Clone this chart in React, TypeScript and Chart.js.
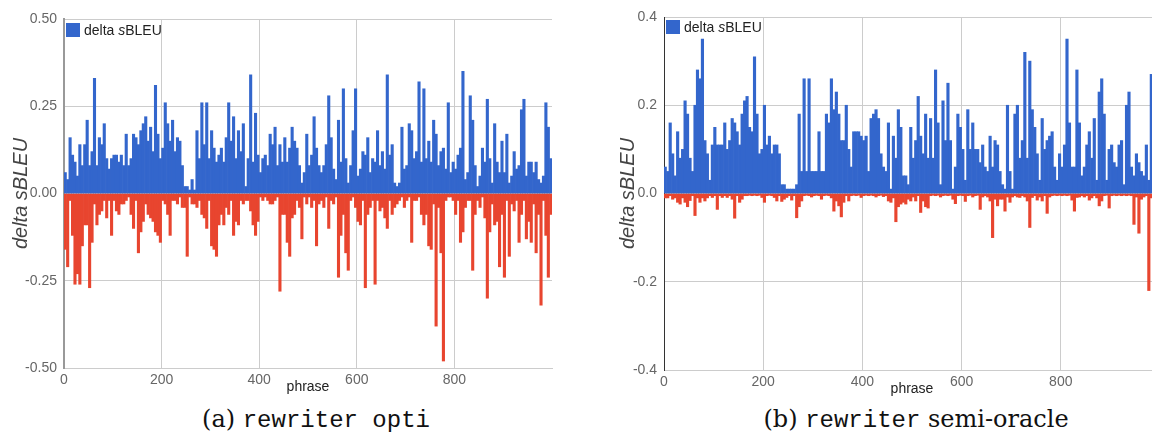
import React, { useEffect, useRef } from "react";
import { Chart, registerables } from "chart.js";

Chart.register(...registerables);

// each value covers a bin of 5 phrases (bin i = phrases 5i .. 5i+4)
const BIN_SIZE = 5;
const X_TICKS = [0, 200, 400, 600, 800, 1000];
const LEFT_Y_TICKS = [-0.5, -0.25, 0, 0.25, 0.5];
const RIGHT_Y_TICKS = [-0.4, -0.2, 0, 0.2, 0.4];

// (a) rewriter opti
const optiGain = [
  0.06, 0.04, 0.16, 0.11, 0.09, 0.05, 0.14, 0.08, 0.14, 0.21,
  0.08, 0.12, 0.33, 0.08, 0.16, 0.14, 0.20, 0.10, 0.07, 0.10,
  0.11, 0.11, 0.09, 0.11, 0.08, 0.17, 0.08, 0.10, 0.17, 0.16,
  0.14, 0.18, 0.20, 0.22, 0.15, 0.19, 0.12, 0.31, 0.17, 0.10,
  0.13, 0.26, 0.20, 0.15, 0.21, 0.12, 0.16, 0.15, 0.08, 0.02,
  0.02, 0.01, 0.04, 0.01, 0.18, 0.10, 0.26, 0.14, 0.26, 0.10,
  0.18, 0.13, 0.09, 0.11, 0.13, 0.09, 0.16, 0.26, 0.15, 0.22,
  0.10, 0.18, 0.12, 0.20, 0.02, 0.10, 0.34, 0.09, 0.23, 0.11,
  0.06, 0.10, 0.11, 0.08, 0.17, 0.14, 0.19, 0.08, 0.14, 0.09,
  0.16, 0.09, 0.13, 0.19, 0.15, 0.13, 0.08, 0.03, 0.06, 0.17,
  0.08, 0.11, 0.22, 0.13, 0.08, 0.06, 0.08, 0.14, 0.28, 0.16,
  0.07, 0.04, 0.21, 0.09, 0.30, 0.10, 0.03, 0.08, 0.18, 0.30,
  0.05, 0.07, 0.12, 0.11, 0.16, 0.06, 0.10, 0.09, 0.18, 0.08,
  0.12, 0.07, 0.34, 0.11, 0.14, 0.03, 0.02, 0.03, 0.19, 0.07,
  0.08, 0.20, 0.18, 0.10, 0.12, 0.32, 0.09, 0.30, 0.10, 0.15,
  0.09, 0.21, 0.17, 0.08, 0.12, 0.13, 0.07, 0.26, 0.06, 0.09,
  0.07, 0.11, 0.13, 0.35, 0.04, 0.06, 0.28, 0.21, 0.08, 0.02,
  0.05, 0.13, 0.09, 0.27, 0.10, 0.03, 0.20, 0.09, 0.06, 0.15,
  0.06, 0.17, 0.03, 0.05, 0.12, 0.07, 0.08, 0.24, 0.27, 0.05,
  0.09, 0.09, 0.06, 0.09, 0.04, 0.03, 0.05, 0.26, 0.19, 0.10,
];
const optiLoss = [
  -0.16, -0.21, -0.02, -0.12, -0.26, -0.23, -0.26, -0.15, -0.09, -0.09,
  -0.27, -0.14, -0.03, -0.09, -0.06, -0.05, -0.02, -0.07, -0.02, -0.12,
  -0.02, -0.05, -0.06, -0.03, -0.03, -0.02, -0.01, -0.06, -0.10, -0.02,
  -0.17, -0.11, -0.08, -0.03, -0.06, -0.07, -0.08, -0.11, -0.12, -0.14,
  -0.02, -0.03, -0.06, -0.12, -0.02, -0.02, -0.03, -0.01, -0.04, -0.04,
  -0.18, -0.01, -0.03, -0.03, -0.04, -0.02, -0.06, -0.07, -0.10, -0.02,
  -0.15, -0.16, -0.18, -0.09, -0.06, -0.09, -0.04, -0.06, -0.02, -0.12,
  -0.08, -0.09, -0.02, -0.03, -0.02, -0.02, -0.05, -0.09, -0.12, -0.08,
  -0.01, -0.02, -0.01, -0.02, -0.03, -0.03, -0.02, -0.01, -0.28, -0.06,
  -0.06, -0.14, -0.18, -0.07, -0.06, -0.02, -0.04, -0.13, -0.01, -0.03,
  -0.01, -0.04, -0.02, -0.15, -0.03, -0.02, -0.04, -0.01, -0.10, -0.02,
  -0.03, -0.01, -0.24, -0.12, -0.06, -0.17, -0.22, -0.02, -0.01, -0.04,
  -0.08, -0.09, -0.02, -0.27, -0.06, -0.04, -0.02, -0.26, -0.02, -0.05,
  -0.04, -0.07, -0.10, -0.02, -0.06, -0.04, -0.03, -0.02, -0.01, -0.04,
  -0.02, -0.01, -0.14, -0.02, -0.02, -0.01, -0.06, -0.09, -0.06, -0.15,
  -0.16, -0.03, -0.38, -0.04, -0.17, -0.48, -0.02, -0.01, -0.01, -0.02,
  -0.06, -0.02, -0.14, -0.11, -0.04, -0.02, -0.02, -0.22, -0.06, -0.02,
  -0.04, -0.01, -0.07, -0.30, -0.11, -0.03, -0.09, -0.08, -0.21, -0.06,
  -0.24, -0.02, -0.18, -0.03, -0.05, -0.02, -0.14, -0.06, -0.02, -0.13,
  -0.08, -0.14, -0.03, -0.17, -0.06, -0.32, -0.02, -0.12, -0.24, -0.06,
];

// (b) rewriter semi-oracle
const semiGain = [
  0.06, 0.05, 0.16, 0.09, 0.04, 0.14, 0.08, 0.10, 0.21, 0.18,
  0.08, 0.05, 0.20, 0.28, 0.26, 0.35, 0.12, 0.09, 0.03, 0.11,
  0.15, 0.11, 0.11, 0.11, 0.16, 0.10, 0.12, 0.17, 0.16, 0.14,
  0.11, 0.18, 0.21, 0.22, 0.15, 0.14, 0.31, 0.18, 0.09, 0.10,
  0.20, 0.11, 0.13, 0.09, 0.11, 0.11, 0.09, 0.02, 0.02, 0.01,
  0.01, 0.01, 0.01, 0.02, 0.18, 0.05, 0.26, 0.05, 0.26, 0.05,
  0.05, 0.05, 0.14, 0.05, 0.05, 0.18, 0.16, 0.26, 0.19, 0.23,
  0.18, 0.12, 0.12, 0.20, 0.10, 0.06, 0.14, 0.14, 0.14, 0.13,
  0.12, 0.13, 0.05, 0.17, 0.18, 0.19, 0.17, 0.09, 0.06, 0.05,
  0.16, 0.01, 0.13, 0.08, 0.19, 0.15, 0.04, 0.04, 0.02, 0.15,
  0.08, 0.12, 0.22, 0.13, 0.09, 0.18, 0.08, 0.17, 0.08, 0.28,
  0.16, 0.02, 0.21, 0.12, 0.25, 0.12, 0.01, 0.06, 0.18, 0.15,
  0.10, 0.03, 0.19, 0.10, 0.16, 0.10, 0.10, 0.07, 0.11, 0.06,
  0.05, 0.13, 0.06, 0.12, 0.11, 0.05, 0.02, 0.01, 0.20, 0.05,
  0.01, 0.18, 0.20, 0.08, 0.12, 0.32, 0.08, 0.30, 0.19, 0.15,
  0.09, 0.03, 0.17, 0.10, 0.12, 0.13, 0.14, 0.06, 0.03, 0.09,
  0.06, 0.11, 0.35, 0.16, 0.06, 0.06, 0.28, 0.16, 0.04, 0.06,
  0.11, 0.14, 0.08, 0.17, 0.03, 0.23, 0.26, 0.18, 0.03, 0.10,
  0.11, 0.07, 0.06, 0.11, 0.12, 0.02, 0.20, 0.23, 0.06, 0.04,
  0.09, 0.07, 0.05, 0.04, 0.11, 0.03, 0.27, 0.12, 0.08, 0.05,
];
const semiLoss = [
  -0.010, -0.010, -0.005, -0.013, -0.010, -0.020, -0.024, -0.010, -0.020, -0.030,
  -0.016, -0.005, -0.050, -0.010, -0.020, -0.010, -0.017, -0.010, -0.005, -0.009,
  -0.005, -0.036, -0.005, -0.009, -0.005, -0.009, -0.005, -0.013, -0.056, -0.005,
  -0.020, -0.013, -0.005, -0.005, -0.004, -0.005, -0.004, -0.005, -0.004, -0.009,
  -0.020, -0.005, -0.004, -0.005, -0.009, -0.017, -0.005, -0.018, -0.013, -0.009,
  -0.005, -0.015, -0.005, -0.055, -0.030, -0.017, -0.005, -0.004, -0.005, -0.008,
  -0.005, -0.004, -0.005, -0.013, -0.005, -0.004, -0.005, -0.010, -0.040, -0.017,
  -0.028, -0.053, -0.020, -0.005, -0.017, -0.005, -0.004, -0.005, -0.004, -0.009,
  -0.005, -0.004, -0.005, -0.004, -0.005, -0.008, -0.005, -0.004, -0.007, -0.005,
  -0.017, -0.020, -0.010, -0.064, -0.030, -0.024, -0.020, -0.024, -0.013, -0.017,
  -0.008, -0.017, -0.005, -0.043, -0.017, -0.030, -0.033, -0.005, -0.004, -0.005,
  -0.004, -0.008, -0.005, -0.004, -0.005, -0.004, -0.013, -0.023, -0.005, -0.004,
  -0.005, -0.018, -0.005, -0.004, -0.008, -0.005, -0.004, -0.036, -0.008, -0.005,
  -0.008, -0.017, -0.100, -0.013, -0.028, -0.013, -0.013, -0.040, -0.008, -0.020,
  -0.008, -0.005, -0.008, -0.009, -0.005, -0.008, -0.017, -0.077, -0.009, -0.005,
  -0.015, -0.008, -0.017, -0.005, -0.045, -0.008, -0.005, -0.004, -0.005, -0.004,
  -0.005, -0.004, -0.005, -0.004, -0.015, -0.040, -0.009, -0.008, -0.005, -0.008,
  -0.005, -0.015, -0.010, -0.005, -0.010, -0.028, -0.017, -0.005, -0.004, -0.033,
  -0.005, -0.004, -0.005, -0.004, -0.005, -0.004, -0.005, -0.004, -0.005, -0.070,
  -0.008, -0.090, -0.013, -0.008, -0.005, -0.220, -0.010, -0.010, -0.008, -0.010,
];

const BLUE = "#3366cc";
const RED = "#e8452f";
const SANS = "'Liberation Sans', Arial, sans-serif";
const SERIF = "'DejaVu Serif', 'Liberation Serif', serif";
const MONO = "'Liberation Mono', 'Courier New', monospace";

type PanelProps = {
  gain: number[];
  loss: number[];
  yTicks: number[];
  decimals: number;
  left: number;
  width: number;
  height: number;
  padTop: number;
  padRight: number;
  yWidth: number;
  xHeight: number;
  yTitlePad: number;
  axisColor: string;
  axisWidth: number;
};

function Panel(p: PanelProps) {
  const ref = useRef<HTMLCanvasElement | null>(null);
  useEffect(() => {
    if (!ref.current) return;
    const toPoints = (arr: number[]) =>
      arr.map((v, i) => ({ x: i * BIN_SIZE + BIN_SIZE / 2, y: v }));
    const chart = new Chart(ref.current, {
      type: "bar",
      data: {
        datasets: [
          {
            label: "delta sBLEU",
            data: toPoints(p.gain) as any,
            backgroundColor: BLUE,
            borderWidth: 0,
            grouped: false,
            barPercentage: 1,
            categoryPercentage: 1,
          },
          {
            label: "delta sBLEU (negative)",
            data: toPoints(p.loss) as any,
            backgroundColor: RED,
            borderWidth: 0,
            grouped: false,
            barPercentage: 1,
            categoryPercentage: 1,
          },
        ],
      },
      options: {
        responsive: false,
        animation: false,
        devicePixelRatio: 1,
        layout: { padding: { top: p.padTop, right: p.padRight, left: 0, bottom: 0 } },
        plugins: { legend: { display: false }, tooltip: { enabled: false } },
        scales: {
          x: {
            type: "linear",
            min: 0,
            max: 1000,
            offset: false,
            afterBuildTicks: (s: any) => {
              s.ticks = X_TICKS.map((v) => ({ value: v }));
            },
            afterFit: (s: any) => {
              s.height = p.xHeight;
            },
            ticks: {
              autoSkip: false,
              maxRotation: 0,
              padding: 4,
              color: "#666",
              font: { family: SANS, size: 14 },
              callback: (v: any) => (Number(v) === 1000 ? "" : String(v)),
            },
            grid: {
              drawTicks: false,
              offset: false,
              color: (ctx: any) =>
                ctx.tick && ctx.tick.value === 1000 ? "rgba(0,0,0,0)" : "#cccccc",
            },
            border: { color: "#cccccc" },
            title: {
              display: true,
              text: "phrase",
              color: "#222",
              font: { family: SANS, size: 14 },
              padding: { top: 0, bottom: 4.6 },
            },
          },
          y: {
            min: p.yTicks[0],
            max: p.yTicks[p.yTicks.length - 1],
            afterBuildTicks: (s: any) => {
              s.ticks = p.yTicks.map((v) => ({ value: v }));
            },
            afterFit: (s: any) => {
              s.width = p.yWidth;
            },
            ticks: {
              padding: 7,
              color: "#666",
              font: { family: SANS, size: 14 },
              callback: (v: any) => Number(v).toFixed(p.decimals),
            },
            grid: { drawTicks: false, color: "#cccccc" },
            border: { color: p.axisColor, width: p.axisWidth },
            title: {
              display: true,
              text: "delta sBLEU",
              color: "#444",
              font: { family: SANS, size: 20, style: "italic" },
              padding: { top: p.yTitlePad, bottom: 0 },
            },
          },
        },
      },
    });
    return () => chart.destroy();
  }, []);
  return (
    <canvas
      ref={ref}
      width={p.width}
      height={p.height}
      style={{ position: "absolute", left: p.left, top: 0, width: p.width, height: p.height }}
    />
  );
}

function Legend({ x, y }: { x: number; y: number }) {
  return (
    <div style={{ position: "absolute", left: x, top: y, height: 16, display: "flex", alignItems: "center" }}>
      <div style={{ width: 14, height: 14, background: BLUE, marginRight: 4 }} />
      <span style={{ fontFamily: SANS, fontSize: 14, color: "#222", lineHeight: "16px", whiteSpace: "nowrap" }}>
        delta <span style={{ fontStyle: "italic" }}>s</span>BLEU
      </span>
    </div>
  );
}

export default function App() {
  return (
    <div
      style={{
        position: "absolute",
        left: 0,
        top: 0,
        width: 1152,
        height: 443,
        overflow: "hidden",
        background: "#fff",
      }}
    >
      <Panel
        gain={optiGain}
        loss={optiLoss}
        yTicks={LEFT_Y_TICKS}
        decimals={2}
        left={0}
        width={576}
        height={400}
        padTop={19}
        padRight={24}
        yWidth={64}
        xHeight={32}
        yTitlePad={9}
        axisColor="#999"
        axisWidth={2}
      />
      <Panel
        gain={semiGain}
        loss={semiLoss}
        yTicks={RIGHT_Y_TICKS}
        decimals={1}
        left={576}
        width={600}
        height={402}
        padTop={17}
        padRight={16}
        yWidth={88}
        xHeight={32}
        yTitlePad={40}
        axisColor="#333"
        axisWidth={1}
      />
      <Legend x={66} y={22} />
      <Legend x={666} y={19} />
      <div
        style={{
          position: "absolute",
          left: 316,
          top: 404,
          transform: "translateX(-50%)",
          whiteSpace: "nowrap",
          fontSize: 24,
          lineHeight: "30px",
          color: "#111",
        }}
      >
        <span style={{ fontFamily: SERIF }}>(a) </span>
        <span style={{ fontFamily: MONO }}>rewriter opti</span>
      </div>
      <div
        style={{
          position: "absolute",
          left: 916,
          top: 404,
          transform: "translateX(-50%)",
          whiteSpace: "nowrap",
          fontSize: 24,
          lineHeight: "30px",
          color: "#111",
        }}
      >
        <span style={{ fontFamily: SERIF }}>(b) </span>
        <span style={{ fontFamily: MONO }}>rewriter</span>
        <span style={{ fontFamily: SERIF }}> semi-oracle</span>
      </div>
    </div>
  );
}
